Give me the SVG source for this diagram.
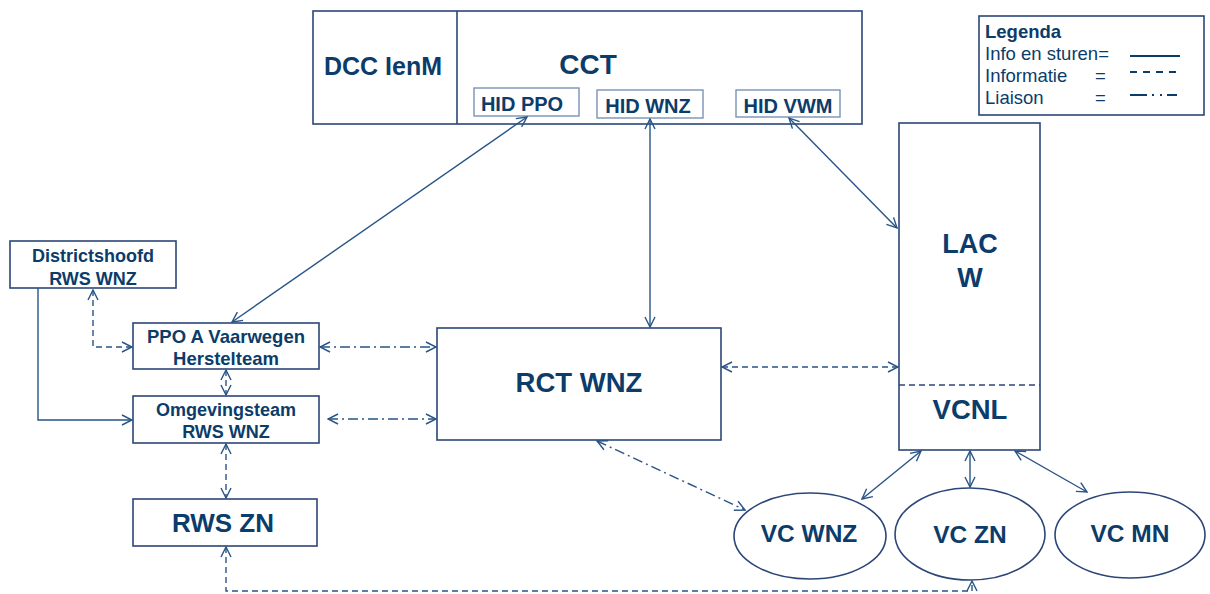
<svg xmlns="http://www.w3.org/2000/svg" width="1210" height="594" viewBox="0 0 1210 594">
<defs>
<style>
.box{fill:#fff;stroke:#2C4677;stroke-width:1.6}
.sub{fill:#fff;stroke:#7A93B5;stroke-width:1.4}
.t{font-family:"Liberation Sans",Arial,sans-serif;font-weight:bold;fill:#0B3C6A;text-anchor:middle}
.lt{font-family:"Liberation Sans",Arial,sans-serif;fill:#0B3C6A;font-size:18.5px}
.c{fill:none;stroke:#285486;stroke-width:1.4}
.dash{stroke-dasharray:6,4}
.dd{stroke-dasharray:10,4,2,4}
</style>
<marker id="a" viewBox="0 0 12 12" refX="11" refY="6" markerWidth="12" markerHeight="12" markerUnits="userSpaceOnUse" orient="auto-start-reverse">
<path d="M1,1 L11,6 L1,11" fill="none" stroke="#285486" stroke-width="1.4"/>
</marker>
</defs>
<rect width="1210" height="594" fill="#fff"/>

<g id="top">
<rect class="box" x="313" y="11" width="549" height="113"/>
<line class="box" x1="457" y1="11" x2="457" y2="124"/>
<text class="t" x="383" y="75" font-size="25">DCC IenM</text>
<text class="t" x="588" y="74" font-size="28">CCT</text>
</g>
<g id="hidppo"><rect class="sub" x="474" y="88" width="105" height="28"/><text class="t" x="522" y="111" font-size="20">HID PPO</text></g>
<g id="hidwnz"><rect class="sub" x="597" y="90" width="106" height="28"/><text class="t" x="648" y="113" font-size="20">HID WNZ</text></g>
<g id="hidvwm"><rect class="sub" x="736" y="90" width="104" height="27"/><text class="t" x="788" y="113" font-size="20">HID VWM</text></g>

<g id="legend">
<rect class="box" x="979" y="16" width="225" height="99"/>
<text class="lt" x="985" y="38" font-weight="bold" font-size="19">Legenda</text>
<text class="lt" x="985" y="60">Info en sturen=</text>
<text class="lt" x="985" y="82">Informatie</text>
<text class="lt" x="1095" y="82">=</text>
<text class="lt" x="985" y="104">Liaison</text>
<text class="lt" x="1095" y="104">=</text>
<line x1="1130" y1="56" x2="1180" y2="56" stroke="#0B3C6A" stroke-width="2"/>
<line x1="1130" y1="72" x2="1180" y2="72" stroke="#0B3C6A" stroke-width="2" stroke-dasharray="7,6"/>
<line x1="1130" y1="95" x2="1180" y2="95" stroke="#0B3C6A" stroke-width="2" stroke-dasharray="17,5,2,6,2,5,10"/>
</g>

<g id="lac">
<rect class="box" x="899" y="123" width="141" height="327"/>
<line x1="899" y1="385" x2="1040" y2="385" stroke="#2C4677" stroke-width="1.4" stroke-dasharray="6,4"/>
<text class="t" x="970" y="253" font-size="27">LAC</text>
<text class="t" x="970" y="287" font-size="27">W</text>
<text class="t" x="970" y="419" font-size="27.5">VCNL</text>
</g>

<g id="rct">
<rect class="box" x="437" y="328" width="284" height="112"/>
<text class="t" x="579" y="392" font-size="27.5">RCT WNZ</text>
</g>

<g id="district">
<rect class="box" x="10" y="241" width="166" height="47"/>
<text class="t" x="93" y="262" font-size="18">Districtshoofd</text>
<text class="t" x="93" y="285" font-size="18">RWS WNZ</text>
</g>
<g id="ppo">
<rect class="box" x="133" y="323" width="186" height="46"/>
<text class="t" x="226" y="343" font-size="18.5">PPO A Vaarwegen</text>
<text class="t" x="226" y="365" font-size="18.5">Herstelteam</text>
</g>
<g id="omg">
<rect class="box" x="133" y="396" width="186" height="47"/>
<text class="t" x="226" y="416" font-size="18">Omgevingsteam</text>
<text class="t" x="226" y="438" font-size="18">RWS WNZ</text>
</g>
<g id="rwszn">
<rect class="box" x="133" y="499" width="184" height="47"/>
<text class="t" x="223" y="532" font-size="26">RWS ZN</text>
</g>

<g id="vcwnz"><ellipse class="box" cx="810" cy="536" rx="76" ry="43"/><text class="t" x="809" y="542" font-size="24.5">VC WNZ</text></g>
<g id="vczn"><ellipse class="box" cx="970" cy="534" rx="75" ry="46"/><text class="t" x="970" y="543" font-size="24.5">VC ZN</text></g>
<g id="vcmn"><ellipse class="box" cx="1130" cy="535" rx="75" ry="43"/><text class="t" x="1130" y="542" font-size="24.5">VC MN</text></g>

<g id="connectors">
<line class="c" x1="527" y1="117" x2="232" y2="322" marker-start="url(#a)" marker-end="url(#a)"/>
<line class="c" x1="650" y1="119" x2="650" y2="327" marker-start="url(#a)" marker-end="url(#a)"/>
<line class="c" x1="789" y1="118" x2="897" y2="228" marker-start="url(#a)" marker-end="url(#a)"/>
<polyline class="c dash" points="93,290 93,347 132,347" marker-start="url(#a)" marker-end="url(#a)"/>
<polyline class="c" points="38,288 38,420 132,420" marker-end="url(#a)"/>
<line class="c dash" x1="226" y1="370" x2="226" y2="395" marker-start="url(#a)" marker-end="url(#a)"/>
<line class="c dash" x1="226" y1="444" x2="226" y2="498" marker-start="url(#a)" marker-end="url(#a)"/>
<line class="c dd" x1="320" y1="347" x2="436" y2="347" marker-start="url(#a)" marker-end="url(#a)"/>
<line class="c dd" x1="328" y1="419" x2="436" y2="419" marker-start="url(#a)" marker-end="url(#a)"/>
<line class="c dash" x1="722" y1="367" x2="898" y2="367" marker-start="url(#a)" marker-end="url(#a)"/>
<line class="c dd" x1="597" y1="441" x2="745" y2="510" marker-start="url(#a)" marker-end="url(#a)"/>
<line class="c" x1="921" y1="451" x2="862" y2="499" marker-start="url(#a)" marker-end="url(#a)"/>
<line class="c" x1="970" y1="451" x2="970" y2="487" marker-start="url(#a)" marker-end="url(#a)"/>
<line class="c" x1="1015" y1="451" x2="1087" y2="492" marker-start="url(#a)" marker-end="url(#a)"/>
<polyline class="c dash" points="226,547 226,591 972,591 972,581" marker-start="url(#a)" marker-end="url(#a)"/>
</g>
</svg>
